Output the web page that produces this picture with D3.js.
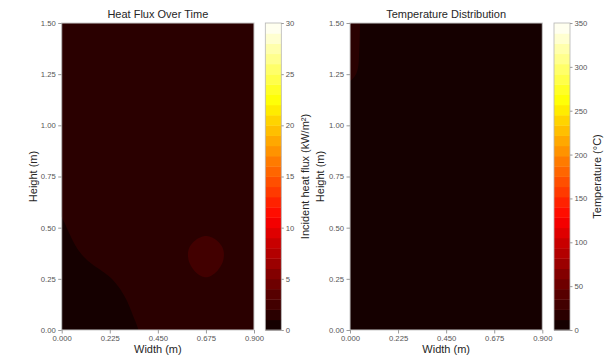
<!DOCTYPE html>
<html><head><meta charset="utf-8">
<script src="https://cdn.jsdelivr.net/npm/d3@7"></script>
<style>body{margin:0;background:#fff}svg{display:block}</style>
</head><body>
<svg id="chart" width="613" height="355"></svg>
<script>
// ---------- data ----------
const widthTicks = [0, 0.225, 0.45, 0.675, 0.9];
const heightTicks = [0, 0.25, 0.5, 0.75, 1.0, 1.25, 1.5];
const gridX = [0, 0.075, 0.15, 0.225, 0.3, 0.375, 0.45, 0.525, 0.6, 0.675, 0.75, 0.825, 0.9];
const gridY = [0, 0.125, 0.25, 0.375, 0.5, 0.625, 0.75, 0.875, 1.0, 1.125, 1.25, 1.375, 1.5];
// incident heat flux (kW/m²), rows = gridY (bottom to top), cols = gridX
const heatFlux = [
  [0.36, 0.48, 0.60, 0.72, 0.90, 1.03, 1.20, 1.38, 1.50, 1.50, 1.50, 1.50, 1.50],
  [0.42, 0.54, 0.66, 0.78, 0.97, 1.14, 1.32, 1.44, 1.50, 1.52, 1.50, 1.48, 1.46],
  [0.54, 0.66, 0.82, 0.98, 1.14, 1.26, 1.38, 1.46, 1.80, 1.97, 1.80, 1.50, 1.45],
  [0.72, 0.96, 1.16, 1.30, 1.38, 1.44, 1.50, 1.52, 2.06, 2.40, 2.06, 1.52, 1.48],
  [0.94, 1.18, 1.32, 1.40, 1.46, 1.50, 1.52, 1.54, 1.68, 1.79, 1.68, 1.52, 1.50],
  [1.08, 1.30, 1.38, 1.44, 1.48, 1.50, 1.52, 1.52, 1.54, 1.56, 1.54, 1.52, 1.50],
  [1.26, 1.38, 1.44, 1.48, 1.50, 1.52, 1.52, 1.53, 1.53, 1.54, 1.53, 1.52, 1.50],
  [1.34, 1.42, 1.47, 1.50, 1.52, 1.53, 1.54, 1.54, 1.54, 1.54, 1.53, 1.52, 1.50],
  [1.38, 1.45, 1.49, 1.52, 1.53, 1.54, 1.55, 1.55, 1.54, 1.53, 1.52, 1.51, 1.50],
  [1.42, 1.47, 1.50, 1.52, 1.54, 1.55, 1.55, 1.55, 1.54, 1.53, 1.52, 1.50, 1.49],
  [1.45, 1.48, 1.51, 1.53, 1.54, 1.55, 1.55, 1.54, 1.53, 1.52, 1.51, 1.50, 1.48],
  [1.46, 1.49, 1.51, 1.53, 1.54, 1.54, 1.54, 1.53, 1.52, 1.51, 1.50, 1.49, 1.47],
  [1.47, 1.49, 1.51, 1.52, 1.53, 1.53, 1.53, 1.52, 1.51, 1.50, 1.49, 1.48, 1.46]
];
// temperature (°C), same grid
const temperature = [
  [6.0, 5.6, 5.3, 5.0, 4.8, 4.6, 4.5, 4.4, 4.3, 4.2, 4.1, 4.0, 4.0],
  [6.4, 5.9, 5.5, 5.2, 4.9, 4.7, 4.6, 4.5, 4.4, 4.3, 4.2, 4.1, 4.0],
  [6.8, 6.2, 5.7, 5.3, 5.0, 4.8, 4.7, 4.6, 4.6, 4.5, 4.3, 4.2, 4.1],
  [7.2, 6.5, 5.9, 5.5, 5.2, 4.9, 4.8, 4.7, 4.7, 4.6, 4.4, 4.2, 4.1],
  [7.6, 6.9, 6.2, 5.7, 5.3, 5.0, 4.9, 4.8, 4.7, 4.6, 4.4, 4.3, 4.2],
  [8.1, 7.3, 6.5, 5.9, 5.5, 5.2, 5.0, 4.9, 4.8, 4.6, 4.5, 4.3, 4.2],
  [8.6, 7.8, 6.9, 6.2, 5.7, 5.3, 5.1, 4.9, 4.8, 4.7, 4.5, 4.4, 4.3],
  [9.2, 8.4, 7.3, 6.5, 5.9, 5.5, 5.2, 5.0, 4.9, 4.7, 4.6, 4.4, 4.3],
  [9.8, 9.0, 7.8, 6.8, 6.1, 5.6, 5.3, 5.1, 4.9, 4.8, 4.6, 4.5, 4.4],
  [10.8, 9.8, 8.2, 7.1, 6.3, 5.8, 5.4, 5.2, 5.0, 4.8, 4.7, 4.5, 4.4],
  [12.0, 10.75, 8.6, 7.4, 6.5, 5.9, 5.5, 5.2, 5.0, 4.9, 4.7, 4.6, 4.4],
  [13.2, 10.45, 8.8, 7.5, 6.6, 6.0, 5.6, 5.3, 5.1, 4.9, 4.7, 4.6, 4.5],
  [13.8, 10.4, 8.9, 7.6, 6.7, 6.0, 5.6, 5.3, 5.1, 4.9, 4.8, 4.6, 4.5]
];
const fluxTicks = [0, 5, 10, 15, 20, 25, 30];
const tempTicks = [0, 50, 100, 150, 200, 250, 300, 350];
const fluxRange = [0, 30];
const tempRange = [0, 350];
const bandCount = 30;

// ---------- helpers ----------
function hot(t) {
  t = Math.max(0, Math.min(1, t));
  const x = Math.min(255, Math.floor(t * 256)) / 255;
  const a = 0.365079, b = 0.746032;
  const r = x < a ? 0.0416 + (1 - 0.0416) * x / a : 1;
  const g = x < a ? 0 : (x < b ? (x - a) / (b - a) : 1);
  const bl = x < b ? 0 : (x - b) / (1 - b);
  return d3.rgb(r * 255, g * 255, bl * 255).toString();
}
function cr(p0, p1, p2, p3, t) {
  return 0.5 * (2 * p1 + (-p0 + p2) * t + (2 * p0 - 5 * p1 + 4 * p2 - p3) * t * t + (-p0 + 3 * p1 - 3 * p2 + p3) * t * t * t);
}
function sampleGrid(G, gx, gy) {
  const ny = G.length, nx = G[0].length;
  const cl = (v, n) => Math.max(0, Math.min(n - 1, v));
  let i = Math.min(nx - 2, Math.max(0, Math.floor(gx))), tx = gx - i;
  let j = Math.min(ny - 2, Math.max(0, Math.floor(gy))), ty = gy - j;
  const rowv = [];
  for (let dj = -1; dj <= 2; dj++) {
    const R = G[cl(j + dj, ny)];
    rowv.push(cr(R[cl(i - 1, nx)], R[i], R[i + 1], R[cl(i + 2, nx)], tx));
  }
  return cr(rowv[0], rowv[1], rowv[2], rowv[3], ty);
}

const svg = d3.select("#chart");
const font = "'Liberation Sans', Arial, sans-serif";
const plotTop = 23, plotBottom = 330;
const y = d3.scaleLinear().domain([0, 1.5]).range([plotBottom, plotTop]);

function drawPanel(opts) {
  const { x0, x1, grid, range, ticks, title, cbX, cbLabel, yLabelX, cbLabelX, id } = opts;
  const x = d3.scaleLinear().domain([0, 0.9]).range([x0, x1]);
  const g = svg.append("g");
  const levels = d3.range(bandCount + 1).map(i => range[0] + (range[1] - range[0]) * i / bandCount);
  const bandColor = i => hot(((levels[i] + levels[i + 1]) / 2 - range[0]) / (range[1] - range[0]));

  // fine sampling of the grid for smooth contour rendering
  const step = 0.005;
  const nx = Math.round(0.9 / step) + 1, ny = Math.round(1.5 / step) + 1;
  const dxg = gridX[1] - gridX[0], dyg = gridY[1] - gridY[0];
  const values = new Array(nx * ny);
  for (let j = 0; j < ny; j++) for (let i = 0; i < nx; i++)
    values[j * nx + i] = sampleGrid(grid, (i * step) / dxg, (j * step) / dyg);
  const contours = d3.contours().size([nx, ny]).thresholds(levels.slice(0, bandCount))(values);
  const proj = d3.geoTransform({
    point(px, py) { this.stream.point(x((px - 0.5) * step), y((py - 0.5) * step)); }
  });
  const path = d3.geoPath(proj);

  svg.append("clipPath").attr("id", id).append("rect")
    .attr("x", x0).attr("y", plotTop).attr("width", x1 - x0).attr("height", plotBottom - plotTop);
  const cg = g.append("g").attr("clip-path", `url(#${id})`);
  cg.append("rect").attr("x", x0).attr("y", plotTop).attr("width", x1 - x0).attr("height", plotBottom - plotTop)
    .attr("fill", bandColor(0));
  cg.selectAll("path").data(contours).join("path")
    .attr("d", path).attr("fill", (d, i) => bandColor(i));

  // frame
  g.append("rect").attr("x", x0).attr("y", plotTop).attr("width", x1 - x0).attr("height", plotBottom - plotTop)
    .attr("fill", "none").attr("stroke", "#c9c9c9").attr("stroke-width", 1);

  // axes
  const xAxis = g.append("g").attr("transform", `translate(0,${plotBottom})`)
    .call(d3.axisBottom(x).tickValues(widthTicks).tickFormat(d3.format(".3f")).tickSize(3.5).tickPadding(2));
  const yAxis = g.append("g").attr("transform", `translate(${x0},0)`)
    .call(d3.axisLeft(y).tickValues(heightTicks).tickFormat(d3.format(".2f")).tickSize(3.5).tickPadding(2.5));
  [xAxis, yAxis].forEach(a => {
    a.select(".domain").remove();
    a.selectAll(".tick line").attr("stroke", "#9a9a9a");
    a.selectAll(".tick text").attr("fill", "#555").style("font-family", font).style("font-size", "7.7px");
  });

  g.append("text").attr("x", (x0 + x1) / 2).attr("y", 18).attr("text-anchor", "middle")
    .style("font-family", font).style("font-size", "11px").attr("fill", "#262626").text(title);
  g.append("text").attr("x", (x0 + x1) / 2).attr("y", 353).attr("text-anchor", "middle")
    .style("font-family", font).style("font-size", "11px").attr("fill", "#262626").text("Width (m)");
  g.append("text").attr("transform", `translate(${yLabelX},${(plotTop + plotBottom) / 2}) rotate(-90)`)
    .attr("text-anchor", "middle")
    .style("font-family", font).style("font-size", "11px").attr("fill", "#262626").text("Height (m)");

  // colorbar
  const cbW = 16;
  const cy = d3.scaleLinear().domain(range).range([plotBottom, plotTop]);
  const cb = g.append("g");
  cb.selectAll("rect").data(d3.range(bandCount)).join("rect")
    .attr("x", cbX).attr("width", cbW)
    .attr("y", i => cy(levels[i + 1]))
    .attr("height", i => cy(levels[i]) - cy(levels[i + 1]) + 0.4)
    .attr("fill", i => bandColor(i));
  g.append("rect").attr("x", cbX).attr("y", plotTop).attr("width", cbW).attr("height", plotBottom - plotTop)
    .attr("fill", "none").attr("stroke", "#b5b5b5").attr("stroke-width", 0.8);
  const cAxis = g.append("g").attr("transform", `translate(${cbX + cbW},0)`)
    .call(d3.axisRight(cy).tickValues(ticks).tickFormat(d3.format("d")).tickSize(2.5).tickPadding(2));
  cAxis.select(".domain").remove();
  cAxis.selectAll(".tick line").attr("stroke", "#9a9a9a");
  cAxis.selectAll(".tick text").attr("fill", "#555").style("font-family", font).style("font-size", "7.7px");
  g.append("text").attr("transform", `translate(${cbLabelX},${(plotTop + plotBottom) / 2}) rotate(-90)`)
    .attr("text-anchor", "middle")
    .style("font-family", font).style("font-size", "11px").attr("fill", "#262626").text(cbLabel);
}

drawPanel({ id: "clipL", x0: 61.7, x1: 254, grid: heatFlux, range: fluxRange, ticks: fluxTicks,
  title: "Heat Flux Over Time", cbX: 265.3, cbLabel: "Incident heat flux (kW/m²)", yLabelX: 36.5, cbLabelX: 309 });
drawPanel({ id: "clipR", x0: 350, x1: 542.3, grid: temperature, range: tempRange, ticks: tempTicks,
  title: "Temperature Distribution", cbX: 554, cbLabel: "Temperature (°C)", yLabelX: 324, cbLabelX: 601 });
</script>
</body></html>
